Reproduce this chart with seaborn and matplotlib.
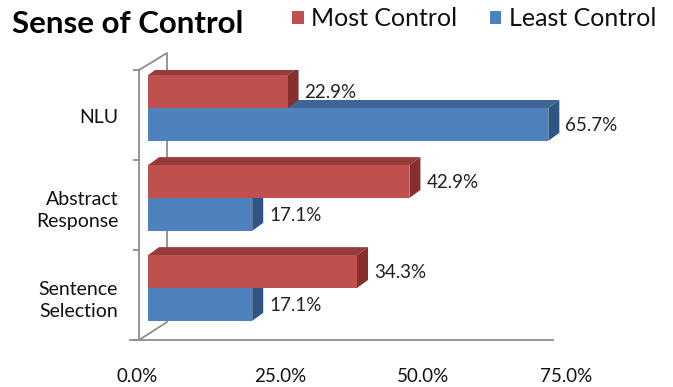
import numpy as np
import pandas as pd
import seaborn as sns
import matplotlib.pyplot as plt
import matplotlib.transforms as mtrans
from matplotlib.patches import Polygon, Patch

# data
categories = ["NLU", "Abstract\nResponse", "Sentence\nSelection"]
most_control = [22.9, 42.9, 34.3]
least_control = [65.7, 17.1, 17.1]
series = ["Most Control", "Least Control"]
x_ticks = [0, 25, 50, 75]

colors = ["#C0504D", "#4F81BD"]
top_colors = ["#943C3A", "#3D6596"]
side_colors = ["#86302E", "#2F5585"]
grey = "#8C8C8C"

df = pd.DataFrame({
    "category": categories * 2,
    "value": most_control + least_control,
    "series": [series[0]] * len(categories) + [series[1]] * len(categories),
})

sns.set_style("white")
plt.rcParams["font.family"] = ["Lato", "DejaVu Sans"]

fig = plt.figure(figsize=(6.73, 3.87), dpi=100)
ax = fig.add_axes([125 / 673, 47 / 387, 480 / 673, 270 / 387])

sns.barplot(data=df, x="value", y="category", hue="series", orient="h",
            palette=colors, saturation=1, width=0.73, linewidth=0, ax=ax)
if ax.get_legend() is not None:
    ax.get_legend().remove()

x_left = -3.78
wall_x = -1.478
ax.set_xlim(x_left, 75)
ax.set_ylim(2.578, -0.422)

# pixel size of one data unit, used for the fake 3d depth
p0 = ax.transData.transform((0, 0))
p1 = ax.transData.transform((1, 1))
sx = p1[0] - p0[0]
sy = p0[1] - p1[1]
ddx = 11 / sx
ddy = 8 / sy

######## 3d faces + value labels ########
for i, cont in enumerate(ax.containers):
    for bar in cont:
        x0 = bar.get_x()
        w = bar.get_width()
        yt = bar.get_y()
        yb = yt + bar.get_height()
        bar.set_zorder(3)
        top = Polygon([(x0, yt), (x0 + w, yt), (x0 + w + ddx, yt - ddy), (x0 + ddx, yt - ddy)],
                      closed=True, facecolor=top_colors[i], edgecolor="none", zorder=2 + 0.5 * (1 - i))
        side = Polygon([(x0 + w, yt), (x0 + w, yb), (x0 + w + ddx, yb - ddy), (x0 + w + ddx, yt - ddy)],
                       closed=True, facecolor=side_colors[i], edgecolor="none", zorder=2 + 0.5 * (1 - i))
        ax.add_patch(top)
        ax.add_patch(side)
        ax.text(x0 + w + 17 / sx, (yt + yb) / 2 + 1 / sy, f"{w:.1f}%", va="center", ha="left",
                fontsize=13.5, color="#222222", zorder=4)

######## axes frame ########
sns.despine(ax=ax, top=True, right=True)
for s in ["left", "bottom"]:
    ax.spines[s].set_color(grey)
    ax.spines[s].set_linewidth(1.3)
ax.spines["left"].set_position(("data", wall_x))
ax.spines["bottom"].set_bounds(-2.96, 66.5)

# back wall lines
bx = wall_x + 28 / sx
ax.plot([wall_x, bx, bx, wall_x], [1, 1 + 17 / 270, 18 / 270, 0], transform=ax.get_xaxis_transform(),
        color=grey, lw=1.3, clip_on=False, zorder=0.5)

ax.set_xticks([])
ax.set_yticks(range(len(categories)))
ax.set_yticks([-0.422, 0.578, 1.578, 2.578], minor=True)
ax.tick_params(axis="y", which="major", length=0, pad=15, labelsize=14, labelcolor="#111111")
ax.tick_params(axis="y", which="minor", length=4.5, width=1.3, color=grey, left=True)
ax.set_yticklabels(categories, linespacing=1.4)
off = mtrans.ScaledTranslation(0, -6 / 72, fig.dpi_scale_trans)
for lab in ax.get_yticklabels():
    lab.set_transform(lab.get_transform() + off)
ax.set_xlabel("")
ax.set_ylabel("")

# labels sit on the receding floor, so they use a slightly squeezed scale
secax = ax.secondary_xaxis("bottom", functions=(lambda d: (d + 1.8) / 0.939,
                                                lambda v: 0.939 * v - 1.8))
secax.set_xticks(x_ticks)
secax.set_xticklabels([f"{t:.1f}%" for t in x_ticks])
secax.spines["bottom"].set_visible(False)
secax.tick_params(length=0, pad=20, labelsize=13.5, labelcolor="#111111")

######## title + legend ########
fig.text(12 / 673, 1 - 24 / 387, "Sense of Control", fontsize=22.5, fontweight="bold",
         va="center", ha="left", color="#000000")
handles = [Patch(facecolor=c, edgecolor="none") for c in colors]
fig.legend(handles, series, loc="center", bbox_to_anchor=(474 / 673, 1 - 19 / 387), ncol=2,
           frameon=False, fontsize=18, handlelength=0.47, handleheight=0.47,
           handletextpad=0.3, columnspacing=1.3, labelcolor="#111111")

fig.savefig("out.png", dpi=100)
